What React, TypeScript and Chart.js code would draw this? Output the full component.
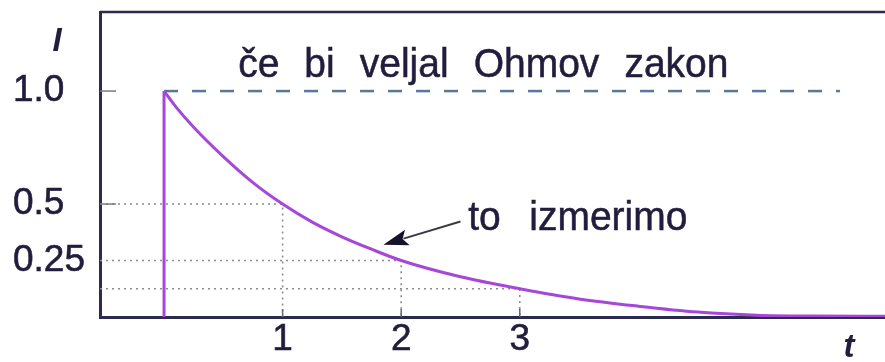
import React, { useEffect, useRef } from "react";
import { Chart, registerables } from "chart.js";

Chart.register(...registerables);

// ---- data ----
const curveT = [0, 0.1, 0.25, 0.5, 0.75, 1, 1.25, 1.5, 1.75, 2, 2.5, 3, 3.5, 4, 4.5, 5, 5.5, 6.1];
const curveI = [1.0, 0.93, 0.84, 0.71, 0.595, 0.5, 0.42, 0.355, 0.3, 0.25, 0.178, 0.125, 0.08, 0.048, 0.022, 0.008, 0.004, 0.003];
const stepT = [0, 0];
const stepI = [0, 1.0];
const ohmT = [0, 5.7];
const ohmI = [1.0, 1.0];
const guideT = [1, 2, 3];
const guideI = [0.5, 0.25, 0.125];
const xTickValues = [1, 2, 3];
const xTickLabels = ["1", "2", "3"];
const yTickValues = [0.25, 0.5, 1.0];
const yTickLabels = ["0.25", "0.5", "1.0"];
const innerYTicks = [0.5, 1.0];
const ohmWords = ["če", "bi", "veljal", "Ohmov", "zakon"];
const measuredWords = ["to", "izmerimo"];
const yAxisLabel = "I";
const xAxisLabel = "t";

// annotation anchors in data units
const ohmSpanT = [0.625, 4.76];
const ohmBaseI = 1.062;
const measuredSpanT = [2.565, 4.414];
const measuredBaseI = 0.385;
const arrowFrom = [2.5, 0.423];
const arrowTo = [1.85, 0.32];

const X_MIN = -0.54;
const X_MAX = 6.08;
const Y_MIN = 0;
const Y_MAX = 1.35;

const FONT = "'Liberation Sans', Arial, Helvetica, sans-serif";
const AXIS = "#2c2a4e";
const TEXT = "#221d3d";
const PURPLE = "#a647d8";
const DASH = "#5a7896";
const DOT = "#8c8c8c";
const TEXT_SIZE = 39;
const TEXT_STRETCH = 1.03;
const TICK_SIZE = 37;

function drawSpaced(ctx: CanvasRenderingContext2D, words: string[], x0: number, x1: number, y: number) {
  const widths = words.map((w) => ctx.measureText(w).width);
  const total = widths.reduce((a, b) => a + b, 0);
  const gap = words.length > 1 ? (x1 - x0 - total) / (words.length - 1) : 0;
  let x = x0;
  words.forEach((w, i) => {
    ctx.save();
    ctx.translate(x, y);
    ctx.scale(1, TEXT_STRETCH);
    ctx.fillText(w, 0, 0);
    ctx.strokeText(w, 0, 0);
    ctx.restore();
    x += widths[i] + gap;
  });
}

const decorPlugin = {
  id: "decor",
  afterDraw(chart: any) {
    const { ctx, chartArea } = chart;
    const xs = chart.scales.x;
    const ys = chart.scales.y;
    ctx.save();

    // top frame line
    ctx.strokeStyle = AXIS;
    ctx.lineWidth = 2.5;
    ctx.beginPath();
    ctx.moveTo(chartArea.left, chartArea.top);
    ctx.lineTo(chart.width, chartArea.top);
    ctx.stroke();

    // small inner ticks on the y axis
    ctx.strokeStyle = "#7a7a7a";
    ctx.lineWidth = 1.5;
    innerYTicks.forEach((v) => {
      const py = ys.getPixelForValue(v);
      ctx.beginPath();
      ctx.moveTo(chartArea.left, py);
      ctx.lineTo(chartArea.left + 16, py);
      ctx.stroke();
    });
    // small inner ticks on the x axis
    ctx.strokeStyle = "#666";
    xTickValues.forEach((v) => {
      const px = xs.getPixelForValue(v);
      ctx.beginPath();
      ctx.moveTo(px, chartArea.bottom);
      ctx.lineTo(px, chartArea.bottom - 8);
      ctx.stroke();
    });

    // annotation texts
    ctx.fillStyle = TEXT;
    ctx.strokeStyle = TEXT;
    ctx.lineWidth = 0.5;
    ctx.font = `${TEXT_SIZE}px ${FONT}`;
    ctx.textBaseline = "alphabetic";
    ctx.textAlign = "left";
    drawSpaced(ctx, ohmWords, xs.getPixelForValue(ohmSpanT[0]), xs.getPixelForValue(ohmSpanT[1]), ys.getPixelForValue(ohmBaseI));
    drawSpaced(ctx, measuredWords, xs.getPixelForValue(measuredSpanT[0]), xs.getPixelForValue(measuredSpanT[1]), ys.getPixelForValue(measuredBaseI));

    // arrow
    const ax0 = xs.getPixelForValue(arrowFrom[0]);
    const ay0 = ys.getPixelForValue(arrowFrom[1]);
    const ax1 = xs.getPixelForValue(arrowTo[0]);
    const ay1 = ys.getPixelForValue(arrowTo[1]);
    const dx = ax1 - ax0;
    const dy = ay1 - ay0;
    const len = Math.hypot(dx, dy);
    const ux = dx / len;
    const uy = dy / len;
    const headL = 25;
    const headW = 8;
    const bx = ax1 - ux * headL;
    const by = ay1 - uy * headL;
    ctx.strokeStyle = "#3a3a44";
    ctx.lineWidth = 2;
    ctx.beginPath();
    ctx.moveTo(ax0, ay0);
    ctx.lineTo(bx + ux * 4, by + uy * 4);
    ctx.stroke();
    ctx.fillStyle = "#15122a";
    ctx.beginPath();
    ctx.moveTo(ax1, ay1);
    ctx.lineTo(bx - uy * headW, by + ux * headW);
    ctx.lineTo(bx + ux * 5, by + uy * 5);
    ctx.lineTo(bx + uy * headW, by - ux * headW);
    ctx.closePath();
    ctx.fill();

    // axis letters
    ctx.fillStyle = TEXT;
    ctx.font = `italic bold 33px ${FONT}`;
    ctx.textAlign = "center";
    ctx.textBaseline = "middle";
    ctx.fillText(yAxisLabel, chartArea.left - 43, chartArea.top + 30);
    ctx.fillText(xAxisLabel, chart.width - 36, chartArea.bottom + 31);

    ctx.restore();
  },
};

export default function App() {
  const canvasRef = useRef<HTMLCanvasElement | null>(null);

  useEffect(() => {
    if (!canvasRef.current) return;
    const guideSets = guideT.map((t, i) => ({
      label: "guide" + i,
      data: [
        { x: X_MIN, y: guideI[i] },
        { x: t, y: guideI[i] },
        { x: t, y: 0 },
      ],
      borderColor: DOT,
      borderWidth: 1.6,
      borderDash: [2, 4],
      pointRadius: 0,
      tension: 0,
    }));
    const chart = new Chart(canvasRef.current, {
      type: "line",
      data: {
        datasets: [
          {
            label: "measured",
            data: curveT.map((t, i) => ({ x: t, y: curveI[i] })),
            borderColor: PURPLE,
            borderWidth: 3,
            pointRadius: 0,
            cubicInterpolationMode: "monotone",
          },
          {
            label: "step",
            data: stepT.map((t, i) => ({ x: t, y: stepI[i] })),
            borderColor: PURPLE,
            borderWidth: 3,
            pointRadius: 0,
            tension: 0,
          },
          {
            label: "ohm",
            data: ohmT.map((t, i) => ({ x: t, y: ohmI[i] })),
            borderColor: DASH,
            borderWidth: 2.5,
            borderDash: [14, 14],
            pointRadius: 0,
            tension: 0,
          },
          ...guideSets,
        ],
      } as any,
      options: {
        animation: false,
        responsive: false,
        maintainAspectRatio: false,
        layout: { padding: { left: 13, top: 12, right: 0, bottom: 0 } },
        plugins: { legend: { display: false }, tooltip: { enabled: false }, title: { display: false } },
        scales: {
          x: {
            type: "linear",
            min: X_MIN,
            max: X_MAX,
            grid: { display: false, tickLength: 0 },
            border: { display: true, color: AXIS, width: 3 },
            afterBuildTicks: (s: any) => {
              s.ticks = xTickValues.map((v) => ({ value: v }));
            },
            afterFit: (s: any) => {
              s.height = 45;
              s.paddingLeft = 0;
              s.paddingRight = 0;
            },
            ticks: {
              color: TEXT,
              textStrokeColor: TEXT,
              textStrokeWidth: 0.6,
              font: { family: FONT, size: TICK_SIZE, lineHeight: 1 },
              padding: 4,
              maxRotation: 0,
              autoSkip: false,
              callback: (_v: any, i: number) => xTickLabels[i],
            },
          },
          y: {
            type: "linear",
            min: Y_MIN,
            max: Y_MAX,
            grid: { display: false, tickLength: 0 },
            border: { display: true, color: AXIS, width: 3 },
            afterBuildTicks: (s: any) => {
              s.ticks = yTickValues.map((v) => ({ value: v }));
            },
            afterFit: (s: any) => {
              s.width = 87;
              s.paddingTop = 0;
              s.paddingBottom = 0;
            },
            ticks: {
              color: TEXT,
              textStrokeColor: TEXT,
              textStrokeWidth: 0.6,
              font: { family: FONT, size: TICK_SIZE, lineHeight: 1 },
              crossAlign: "far",
              autoSkip: false,
              callback: (_v: any, i: number) => yTickLabels[i],
            },
          },
        },
      } as any,
      plugins: [decorPlugin],
    });
    return () => chart.destroy();
  }, []);

  return (
    <div style={{ position: "absolute", left: 0, top: 0, width: 885, height: 362, background: "#fff" }}>
      <canvas ref={canvasRef} width={885} height={362} style={{ width: 885, height: 362, display: "block" }} />
    </div>
  );
}
